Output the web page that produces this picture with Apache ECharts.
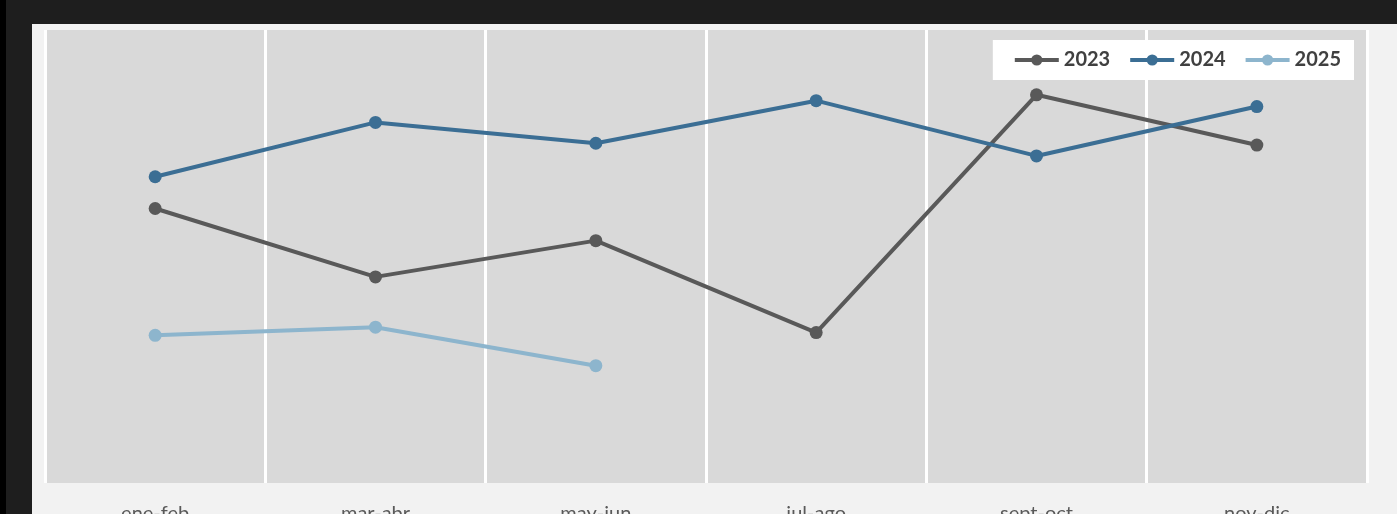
<!DOCTYPE html>
<html>
<head>
<meta charset="utf-8">
<script src="https://cdn.jsdelivr.net/npm/echarts@6/dist/echarts.min.js"></script>
<style>
  html, body { margin: 0; padding: 0; width: 1397px; height: 514px; overflow: hidden; background: #1e1e1e; }
  .edge { position: absolute; left: 0; top: 0; width: 6px; height: 514px; background: #000; }
  .charts { position: absolute; left: 32px; top: 24px; width: 1365px; height: 490px; background: #f2f2f2; }
  #myChart { width: 100%; height: 100%; }
</style>
</head>
<body>
<div class="edge"></div>
<div class="charts">
  <div id="myChart"></div>
</div>
<script>
// categorías (bimestres)
const categories = ["ene-feb", "mar-abr", "may-jun", "jul-ago", "sept-oct", "nov-dic"];
const seriesNames = ["2023", "2024", "2025"];
// valores (escala 0-100, eje oculto)
const data2023 = [60.6, 45.5, 53.5, 33.2, 85.7, 74.6];
const data2024 = [67.6, 79.6, 75.0, 84.4, 72.2, 83.1];
const data2025 = [32.6, 34.4, 25.9];

const colors = ["#595959", "#3b6e94", "#8db5cd"];
const allData = [data2023, data2024, data2025];

let myChart = echarts.init(document.getElementById("myChart"));
myChart.setOption({
  animation: false,
  textStyle: { fontFamily: "Lato, 'Open Sans', sans-serif" },
  grid: {
    left: 13,
    top: 6,
    width: 1322,
    height: 453,
    outerBoundsMode: "none",
    containLabel: false,
    show: true,
    backgroundColor: "#d9d9d9",
    borderWidth: 0
  },
  legend: {
    right: 43,
    top: 16,
    backgroundColor: "#ffffff",
    padding: [10, 13, 10, 20],
    itemWidth: 44,
    itemHeight: 14,
    itemGap: 18,
    lineStyle: { width: 4 },
    textStyle: { fontSize: 20, fontWeight: "bold", color: "#404040", fontFamily: "Lato, sans-serif" },
    data: seriesNames
  },
  xAxis: {
    type: "category",
    data: categories,
    boundaryGap: true,
    axisLine: { show: false },
    axisTick: { show: false },
    axisLabel: { fontSize: 20, color: "#595959", margin: 21 },
    splitLine: { show: true, lineStyle: { color: "#ffffff", width: 3 } }
  },
  yAxis: {
    type: "value",
    min: 0,
    max: 100,
    show: false,
    splitLine: { show: false }
  },
  series: seriesNames.map((name, i) => ({
    name: name,
    type: "line",
    data: allData[i],
    color: colors[i],
    symbol: "circle",
    symbolSize: 13,
    showAllSymbol: true,
    lineStyle: { width: 4, color: colors[i] },
    itemStyle: { color: colors[i] }
  }))
});
</script>
</body>
</html>
